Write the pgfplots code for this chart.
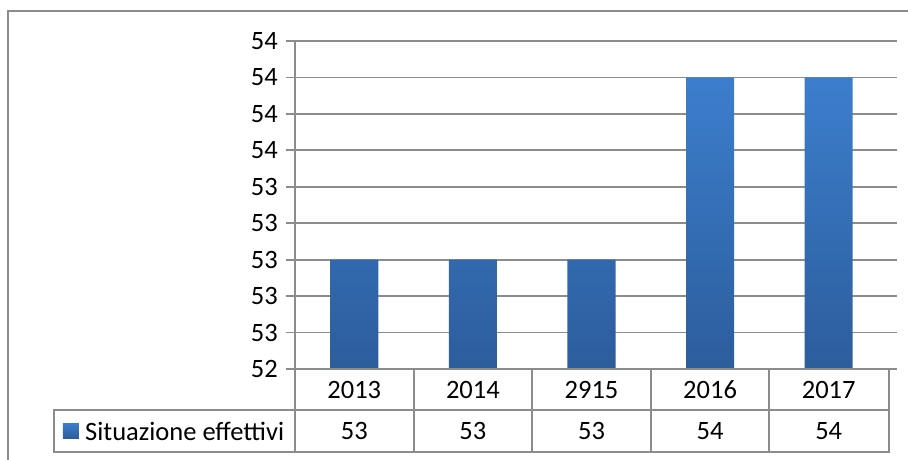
\documentclass[border=0pt]{standalone}
\usepackage{fontspec}
\setmainfont{Carlito}
\usepackage{pgfplots}
\pgfplotsset{compat=1.18}
\usetikzlibrary{calc}
\definecolor{gridgray}{RGB}{140,140,140}
\definecolor{bartop}{RGB}{60,126,205}
\definecolor{barbot}{RGB}{44,93,156}
\begin{document}
\begin{tikzpicture}[x=1pt,y=1pt]
\begin{axis}[width=593pt, height=328pt, scale only axis,
 xmin=-0.5, xmax=4.5, ymin=52.4, ymax=54.2,
 ytick={52.4,52.6,52.8,53.0,53.2,53.4,53.6,53.8,54.0,54.2},
 yticklabels={52,53,53,53,53,53,54,54,54,54},
 xtick={0,1,2,3,4}, xticklabels={2013,2014,2915,2016,2017},
 xtick style={draw=none},
 ymajorgrids, grid style={gridgray, line width=1.8pt},
 tick align=outside, major tick length=9pt,
 ytick style={gridgray, line width=1.8pt},
 axis line style={draw=none},
 tick label style={font=\fontsize{26.5}{31}\selectfont, inner sep=0pt},
 yticklabel style={xshift=-8pt},
 xticklabel style={anchor=center, yshift=-12pt},
]
\addplot[ybar, bar width=48pt, draw=none, top color=bartop, bottom color=barbot] coordinates {(0,53.0) (1,53.0) (2,53.0) (3,54.0) (4,54.0)};
\coordinate (O) at (rel axis cs:0,0);
\end{axis}
\pgfresetboundingbox
\begin{scope}[shift={($(O)+(-295,-90)$)}]
\path[use as bounding box] (0,0) rectangle (908,459);
\draw[gridgray, line width=2pt] (8.5,-20) -- (8.5,448) -- (930,448);
% data table
\begin{scope}[gridgray, line width=1.9pt]
\draw (295,7) rectangle (889,90);
\draw (54,49) -- (889,49);
\draw (54,7) rectangle (295,49);
\foreach \x in {413.6,532.2,650.8,769.4} \draw (\x,7) -- (\x,90);
\draw (295,7) -- (295,418);
\end{scope}
\shade[top color=bartop, bottom color=barbot] (63,21) rectangle (79,36);
\node[anchor=west, inner sep=0pt, font=\fontsize{26.5}{31}\selectfont] at (85,28) {Situazione effettivi};
\foreach \x/\v in {354.3/53,472.9/53,591.5/53,710.1/54,828.7/54}
  \node[inner sep=0pt, font=\fontsize{26.5}{31}\selectfont] at (\x,28) {\v};
\end{scope}
\end{tikzpicture}
\end{document}
